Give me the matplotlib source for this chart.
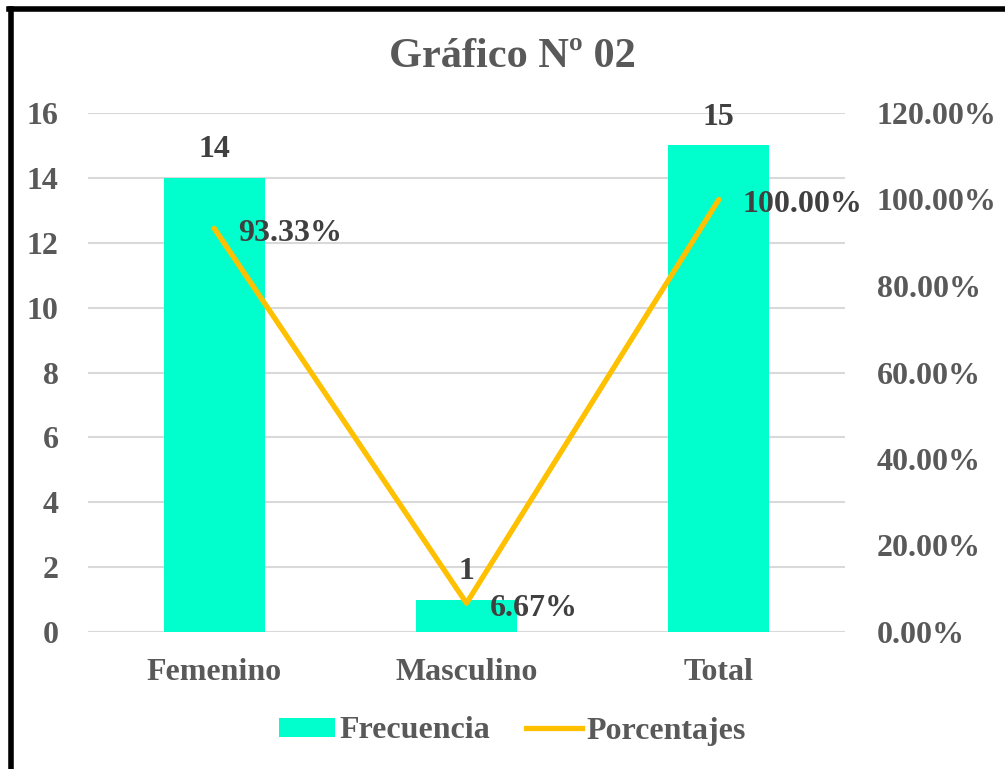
import matplotlib.pyplot as plt
from matplotlib.lines import Line2D
from matplotlib.patches import Patch
from matplotlib.ticker import FuncFormatter

plt.rcParams['font.family'] = ['Liberation Serif', 'DejaVu Serif']
plt.rcParams['font.weight'] = 'bold'

categorias = ['Femenino', 'Masculino', 'Total']
frecuencia = [14, 1, 15]
porcentajes = [93.33, 6.67, 100.00]

bar_color = '#00FFCC'
line_color = '#FFC000'
text_gray = '#595959'
label_dark = '#404040'
fs = 23

fig = plt.figure(figsize=(10.05, 7.69), dpi=100)
ax = fig.add_axes([88 / 1005, 1 - 632 / 769, (845 - 88) / 1005, (632 - 113) / 769])
ax2 = ax.twinx()

x = range(len(categorias))
ax.bar(x, frecuencia, width=0.4, color=bar_color, zorder=2)
ax.set_xlim(-0.5, 2.5)
ax.set_ylim(0, 16)
ax.set_yticks(range(0, 17, 2))
ax.grid(axis='y', color='#D9D9D9', linewidth=1.5, zorder=0)
ax.set_axisbelow(True)
ax.set_xticks(list(x))
ax.set_xticklabels(categorias)

for a in (ax, ax2):
    for s in a.spines.values():
        s.set_visible(False)
    a.tick_params(length=0, labelsize=fs, labelcolor=text_gray)
ax.tick_params(axis='y', pad=21)
ax.tick_params(axis='x', pad=19)
ax2.tick_params(axis='y', pad=23)

for xi, v in zip(x, frecuencia):
    ax.annotate(str(v), (xi, v), xytext=(0, 10), textcoords='offset points',
                ha='center', va='bottom', fontsize=fs, color=label_dark)

ax2.plot(list(x), porcentajes, color=line_color, linewidth=3.8,
         solid_capstyle='round', zorder=3)
ax2.set_ylim(0, 120)
ax2.set_yticks(range(0, 121, 20))
ax2.yaxis.set_major_formatter(FuncFormatter(lambda v, p: f'{v:.2f}%'))
for xi, v in zip(x, porcentajes):
    ax2.annotate(f'{v:.2f}%', (xi, v), xytext=(17, -3.5), textcoords='offset points',
                 ha='left', va='center', fontsize=fs, color=label_dark)

fig.suptitle('Gráfico Nº 02', x=0.51, y=1 - 57 / 769, va='center',
             fontsize=30.5, color=text_gray, fontweight='bold')

handles = [Patch(facecolor=bar_color, label='Frecuencia'),
           Line2D([0], [0], color=line_color, linewidth=3.8, label='Porcentajes')]
fig.legend(handles=handles, loc='center', bbox_to_anchor=(0.51, 1 - 731 / 769),
           ncol=2, frameon=False, fontsize=fs, labelcolor=text_gray,
           handlelength=1.75, handleheight=0.55, handletextpad=0.15,
           columnspacing=1.1)

# black frame on top and left edges
fig.add_artist(Line2D([10.5 / 1005, 10.5 / 1005], [0, 1 - 8.5 / 769],
                      transform=fig.transFigure, color='black', linewidth=4))
fig.add_artist(Line2D([8.5 / 1005, 1], [1 - 8.5 / 769, 1 - 8.5 / 769],
                      transform=fig.transFigure, color='black', linewidth=4))

fig.savefig('out.png', dpi=100, facecolor='white')
